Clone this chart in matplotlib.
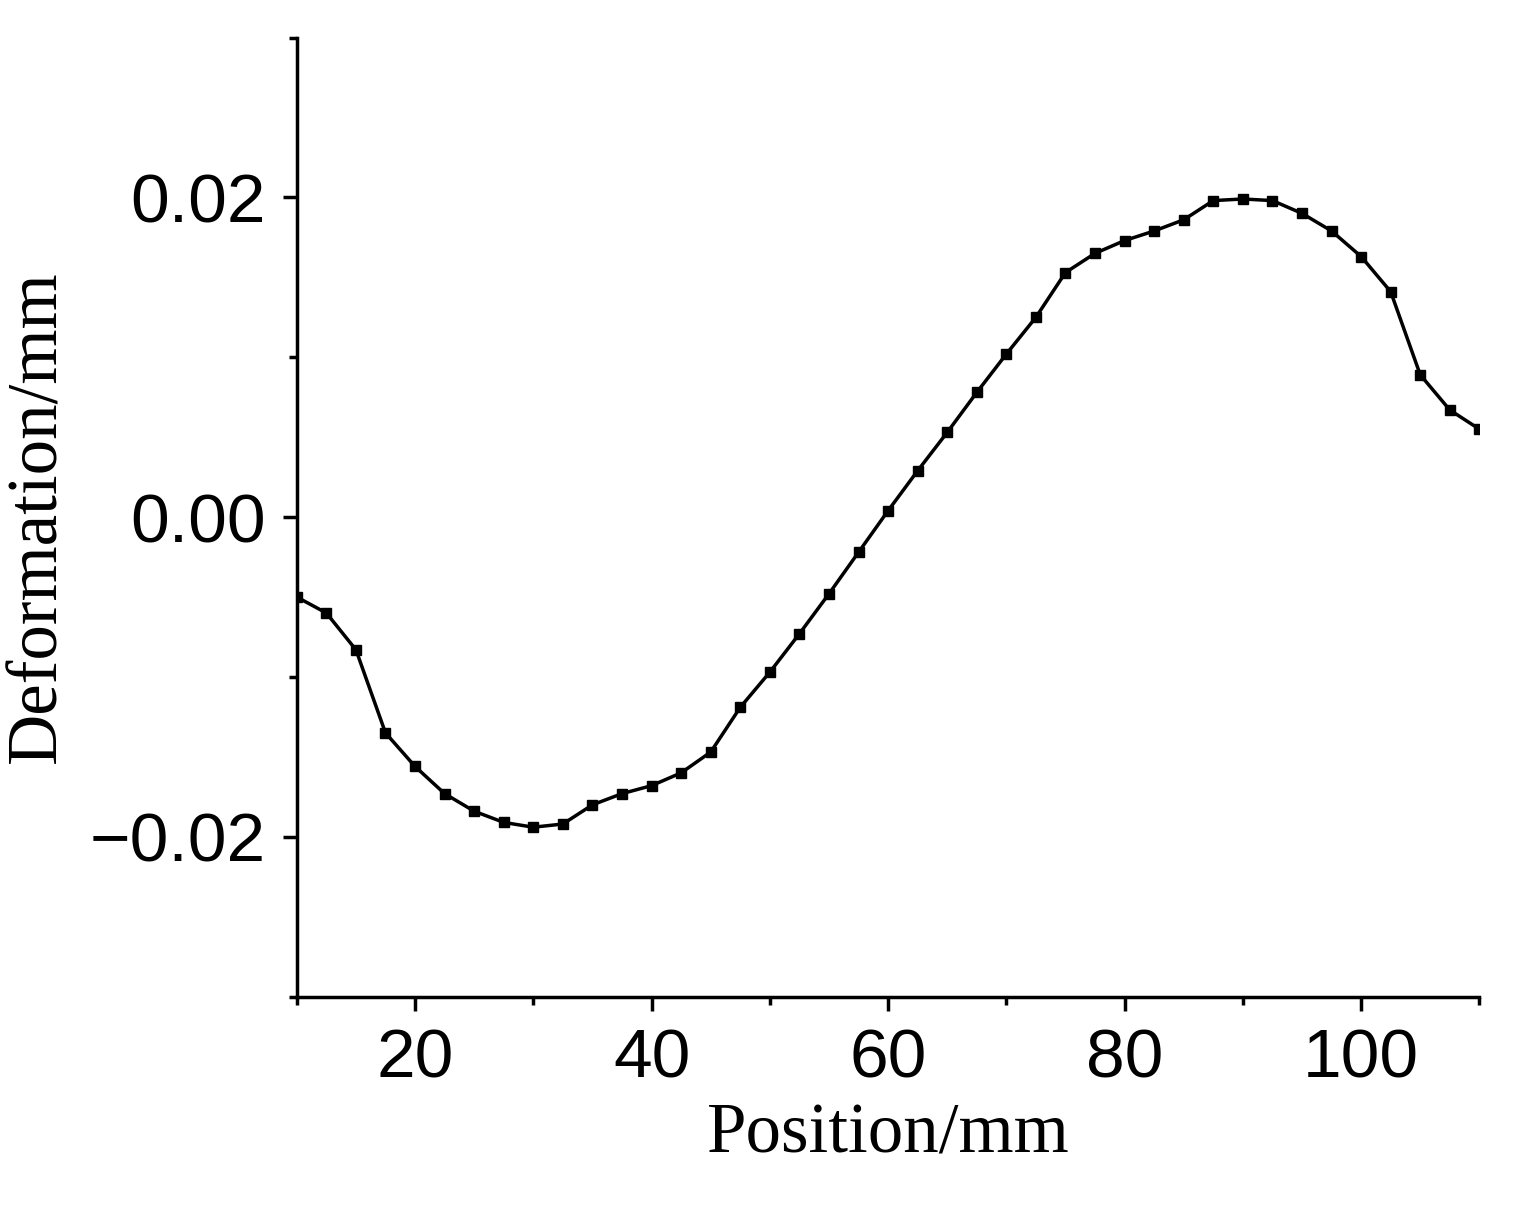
import matplotlib
matplotlib.use("Agg")
import matplotlib.pyplot as plt
import numpy as np

position = [10 + 2.5 * i for i in range(41)]
deformation = [-0.0050, -0.0060, -0.0083, -0.0135, -0.0156, -0.0173, -0.0184, -0.0191,
               -0.0194, -0.0192, -0.0180, -0.0173, -0.0168, -0.0160, -0.0147, -0.0119,
               -0.0097, -0.0073, -0.0048, -0.0022, 0.0004, 0.0029, 0.0053, 0.0078,
               0.0102, 0.0125, 0.0153, 0.0165, 0.0173, 0.0179, 0.0186, 0.0198,
               0.0199, 0.0198, 0.0190, 0.0179, 0.0163, 0.0141, 0.0089, 0.0067, 0.0055]

fig = plt.figure(figsize=(15.22, 12.11), dpi=100)
ax = fig.add_axes([0.195, 0.177, 0.777, 0.792])
ax.plot(position, deformation, color="black", lw=2.5, marker="s", ms=7)
ax.set_xlim(10, 110)
ax.set_ylim(-0.03, 0.03)
ax.set_xticks([20, 40, 60, 80, 100])
ax.set_xticks([10, 30, 50, 70, 90, 110], minor=True)
ax.set_yticks([-0.02, 0.0, 0.02])
ax.set_yticks([-0.03, -0.01, 0.01, 0.03], minor=True)
ax.set_yticklabels(["\u22120.02", "0.00", "0.02"])
for s in ["top", "right"]:
    ax.spines[s].set_visible(False)
for s in ["left", "bottom"]:
    ax.spines[s].set_linewidth(2.5)
ax.tick_params(which="major", length=10, width=2.5, labelsize=50, pad=12)
ax.tick_params(which="minor", length=6, width=2.5)
for lab in ax.get_xticklabels() + ax.get_yticklabels():
    lab.set_family("Liberation Sans")
ax.set_xlabel("Position/mm", fontsize=51, family="Liberation Serif", labelpad=8)
ax.set_ylabel("Deformation/mm", fontsize=51, family="Liberation Serif", labelpad=14)
fig.savefig("out.png", dpi=100)
